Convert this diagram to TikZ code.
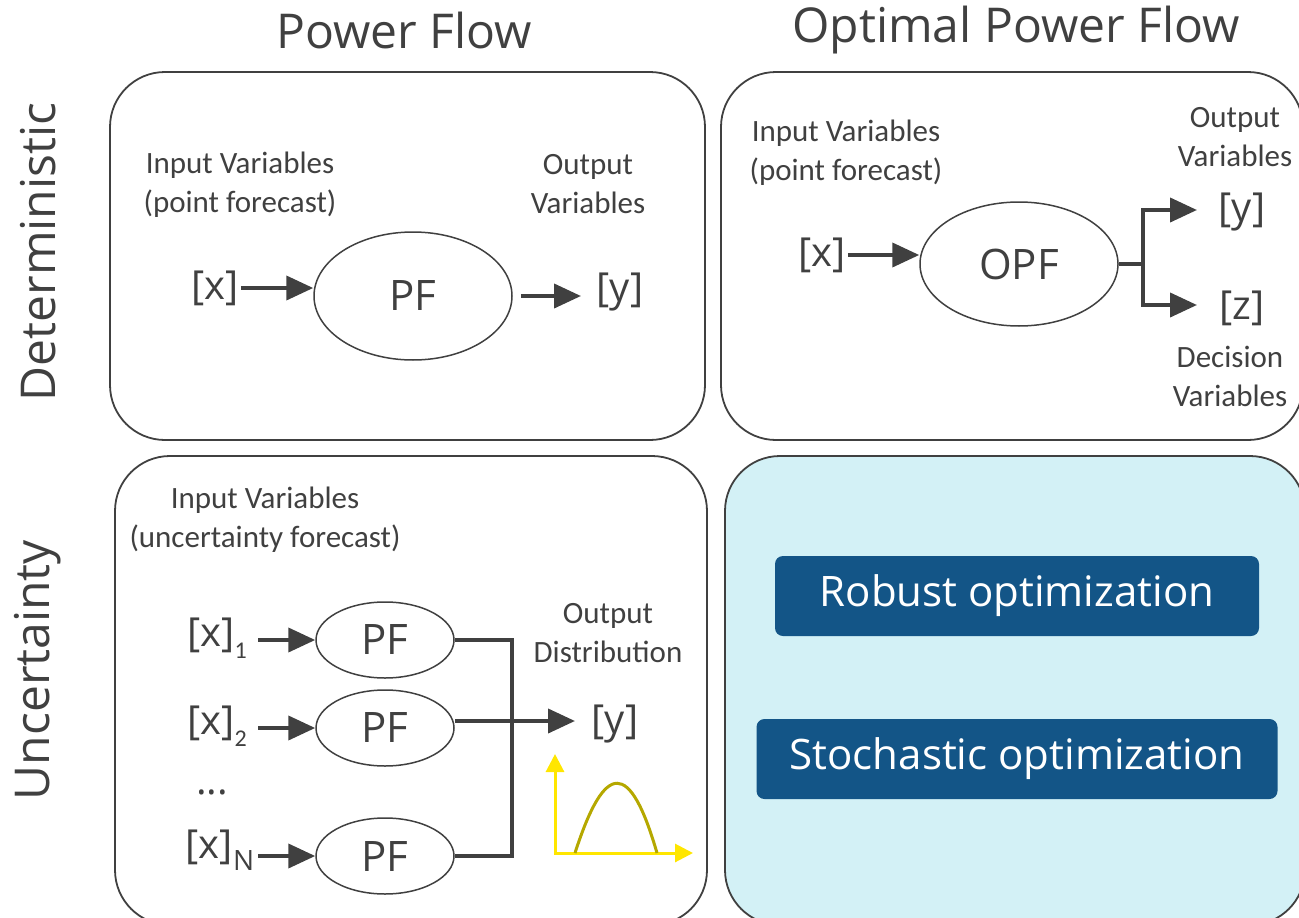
\documentclass[tikz,border=0pt]{standalone}
\usepackage{fontspec}
\setmainfont{Open Sans}
\newfontfamily\lab{Carlito}
\usetikzlibrary{shapes.geometric,arrows.meta}
\definecolor{txt}{HTML}{404040}
\definecolor{boxline}{HTML}{404040}
\definecolor{cyanbg}{HTML}{D3F1F6}
\definecolor{btnblue}{HTML}{135587}
\definecolor{yel}{HTML}{FFE600}
\definecolor{olive}{HTML}{B5A800}
\tikzset{
  panel/.style={draw=boxline, line width=1.8pt, rounded corners=55pt},
  title/.style={font=\fontsize{48}{56}\selectfont, text=txt, inner sep=0pt},
  lbl/.style={font=\lab\fontsize{31}{39}\selectfont, text=txt, align=center, inner sep=0pt},
  var/.style={font=\fontsize{40}{46}\selectfont, text=txt, inner sep=2pt},
  ell/.style={draw=boxline, ellipse, line width=1.5pt, inner sep=0pt, font=\fontsize{42}{48}\selectfont, text=txt},
  conn/.style={draw=txt, line width=4pt},
  arr/.style={conn, -{Triangle[length=27pt,width=24pt]}},
  yarr/.style={draw=yel, line width=3pt},
  btnbox/.style={fill=btnblue, rounded corners=8pt, text=white, font=\fontsize{42}{48}\selectfont, minimum height=80pt, inner sep=0pt}
}
\begin{document}
\begin{tikzpicture}[x=1pt,y=-1pt]
\useasboundingbox (0,0) rectangle (1299,918);
% titles
\node[title] (t1) at (404,30) {Power Flow};
\node[title] (t2) at (1016,30) {Optimal Power Flow};
\node[title, rotate=90] (r1) at (38,252) {Deterministic};
\node[title, rotate=90] (r2) at (38,670) {Uncertainty};
% panels
\draw[panel] (110,72) rectangle (705,440);
\draw[panel] (721,72) rectangle (1303,440);
\draw[panel] (115,456) rectangle (707,925);
\draw[panel, fill=cyanbg] (725,456) rectangle (1305,925);
% top-left: PF
\node[lbl] (inA) at (240,185) {Input Variables\\(point forecast)};
\node[lbl] (outA) at (588,184) {Output\\Variables};
\node[var] (xA) at (215,288) {[x]};
\node[ell, minimum width=198pt, minimum height=128pt] (pfA) at (413,296) {PF};
\node[var] (yA) at (620,292) {[y]};
\draw[arr] (xA.east) -- (xA.east -| pfA.west);
\draw[arr, shorten <=8pt] (pfA.east) -- (581,296);
% top-right: OPF
\node[lbl] (inB) at (846,153) {Input Variables\\(point forecast)};
\node[lbl] (outB) at (1235,137) {Output\\Variables};
\node[var] (xB) at (822,255) {[x]};
\node[ell, minimum width=198pt, minimum height=124pt] (opf) at (1019,264) {OPF};
\node[var] (yB) at (1242,212) {[y]};
\node[var] (zB) at (1242,308) {[z]};
\node[lbl] (decB) at (1230,376) {Decision\\Variables};
\coordinate (br) at (1143,264);
\coordinate (brY) at (1197,210);
\coordinate (brZ) at (1197,305);
\draw[arr] (xB.east) -- (xB.east -| opf.west);
\draw[conn] (opf.east) -- (br);
\draw[arr] (br) |- (brY);
\draw[arr] (br) |- (brZ);
% bottom-left: uncertainty PF
\node[lbl] (inC) at (265,520) {Input Variables\\(uncertainty forecast)};
\node[lbl] (outC) at (608,633) {Output\\Distribution};
\node[var] (x1) at (217,638) {[x]\raisebox{-0.3em}{\lab\fontsize{24}{24}\selectfont 1}};
\node[var] (x2) at (217,726) {[x]\raisebox{-0.3em}{\lab\fontsize{24}{24}\selectfont 2}};
\node[var] (dots) at (212,792) {...};
\node[var] (xN) at (220,850) {[x]\raisebox{-0.3em}{\fontsize{28}{28}\selectfont N}};
\node[ell, minimum width=138pt, minimum height=76pt] (pf1) at (385,640) {PF};
\node[ell, minimum width=138pt, minimum height=76pt] (pf2) at (385,728) {PF};
\node[ell, minimum width=138pt, minimum height=76pt] (pfN) at (385,856) {PF};
\node[var] (yC) at (615,724) {[y]};
\coordinate (yCtip) at (575,721);
\coordinate (bus) at (512,640);
\draw[arr] (258,640) -- (pf1.west);
\draw[arr] (258,728) -- (pf2.west);
\draw[arr] (258,856) -- (pfN.west);
\draw[conn, line width=3.5pt] (pf1.east) -- (bus) |- (pfN.east);
\draw[arr] (pf2.east |- yCtip) -- (yCtip);
% distribution sketch
\coordinate (ax0) at (555,853);
\coordinate (axY) at (555,754);
\coordinate (axX) at (693,853);
\draw[yarr, {Triangle[length=18pt,width=18pt]}-{Triangle[length=18pt,width=18pt]}] (axY) -- (ax0) -- (axX);
\draw[olive, line width=3pt] (575,853) .. controls (605,760) and (630,760) .. (657,853);
% bottom-right buttons
\node[btnbox, minimum width=484pt] (rob) at (1017,596) {Robust optimization};
\node[btnbox, minimum width=521pt] (sto) at (1017,759) {Stochastic optimization};
\end{tikzpicture}
\end{document}
